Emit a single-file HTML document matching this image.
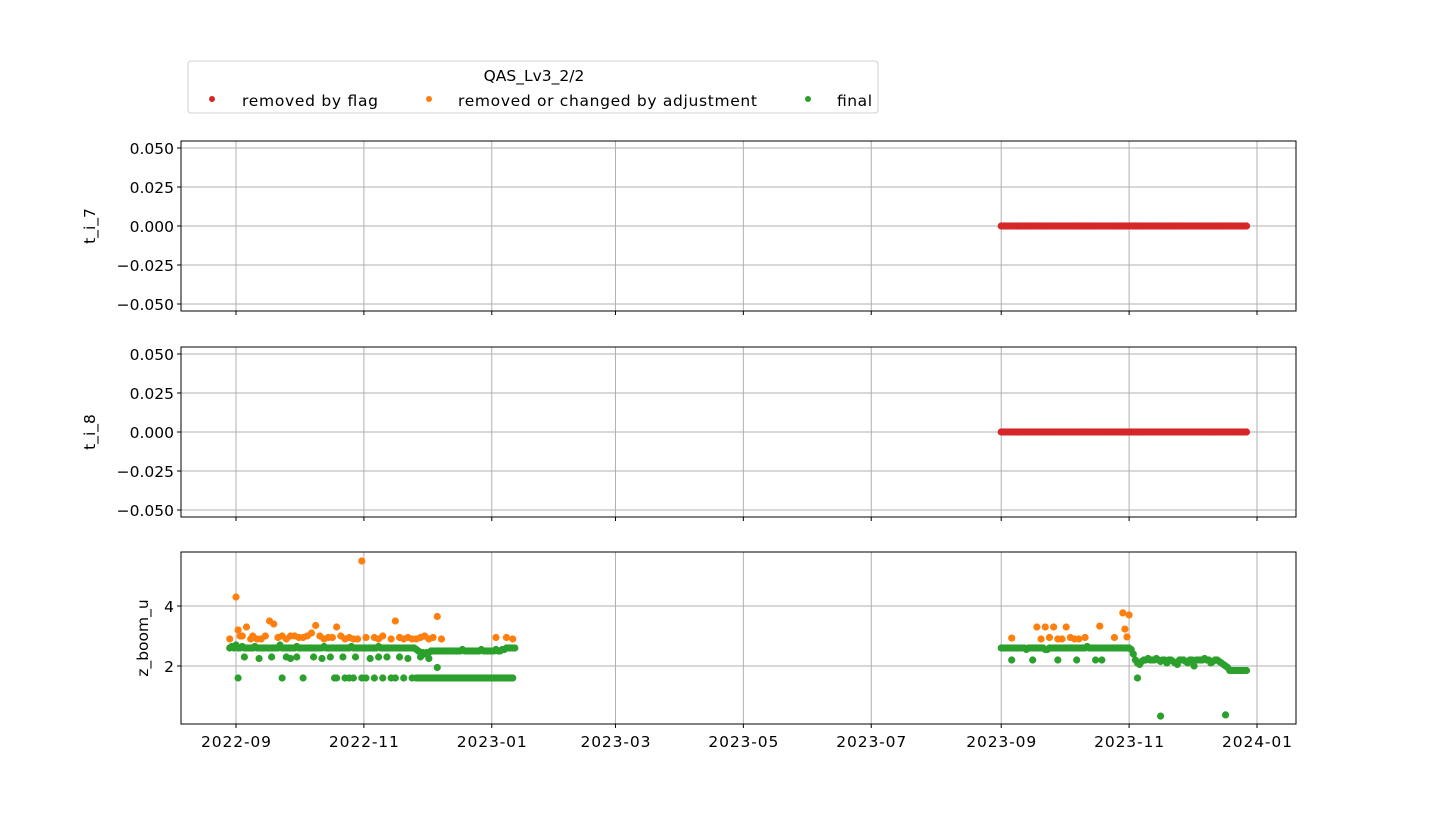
<!DOCTYPE html>
<html><head><meta charset="utf-8"><style>
body{margin:0;background:#fff;}
svg{display:block;font-family:"DejaVu Sans","Liberation Sans",sans-serif;}
</style></head><body>
<svg id="fig" width="1440" height="827" xmlns="http://www.w3.org/2000/svg">
<rect width="1440" height="827" fill="#fff"/>
<g id="legend">
<rect x="188" y="61" width="690" height="52" rx="3" fill="#fff" stroke="#d0d0d0"/>
<text x="534" y="81" font-size="15.5" text-anchor="middle">QAS_Lv3_2/2</text>
<circle cx="212" cy="99" r="3" fill="#d62728"/>
<text x="242" y="106" font-size="15.5" textLength="136">removed by flag</text>
<circle cx="429" cy="99" r="3" fill="#ff7f0e"/>
<text x="458" y="106" font-size="15.5" textLength="299">removed or changed by adjustment</text>
<circle cx="808" cy="99" r="3" fill="#2ca02c"/>
<text x="837" y="106" font-size="15.5" textLength="35">final</text>
</g>
</svg>
<script>
// x tick labels and their day offsets from 2022-09-01
const xTickLabels=["2022-09","2022-11","2023-01","2023-03","2023-05","2023-07","2023-09","2023-11","2024-01"];
const xTickDays=[0,61,122,181,242,303,365,426,487];
const topTicks=[0.05,0.025,0,-0.025,-0.05];
const topTickLabels=["0.050","0.025","0.000","\u22120.025","\u22120.050"];
const botTicks=[2,4];
const botTickLabels=["2","4"];
// top panels: flagged values, daily from day 365
const redStart=365;
const redVals=[0,0,0,0,0,0,0,0,0,0, 0,0,0,0,0,0,0,0,0,0, 0,0,0,0,0,0,0,0,0,0, 0,0,0,0,0,0,0,0,0,0,
0,0,0,0,0,0,0,0,0,0, 0,0,0,0,0,0,0,0,0,0, 0,0,0,0,0,0,0,0,0,0, 0,0,0,0,0,0,0,0,0,0,
0,0,0,0,0,0,0,0,0,0, 0,0,0,0,0,0,0,0,0,0, 0,0,0,0,0,0,0,0,0,0, 0,0,0,0,0,0,0,0];
// bottom panel: orange (removed/changed by adjustment)
const orangeDays=[-3,0,1,2,3,5,7,8,10,12,14,16,18,20,22,24,26,28,30,32,34,36,38,40,42,44,46,48,50,52,54,56,58,60,62,66,68,70,74,76,78,80,82,84,86,88,90,92,94,96,98,124,129,132,370,382,384,386,388,390,392,394,396,398,400,402,405,412,419,423,424,425,426];
const orangeVals=[2.9,4.3,3.2,3.0,3.0,3.3,2.9,3.0,2.9,2.9,3.0,3.5,3.4,2.95,3.0,2.9,3.0,3.0,2.95,2.95,3.0,3.1,3.35,3.0,2.9,2.95,2.95,3.3,3.0,2.9,2.95,2.9,2.9,5.5,2.95,2.95,2.9,3.0,2.9,3.5,2.95,2.9,2.95,2.9,2.9,2.95,3.0,2.9,2.95,3.65,2.9,2.95,2.95,2.9,2.93,3.3,2.9,3.3,2.95,3.3,2.9,2.9,3.3,2.95,2.9,2.9,2.95,3.33,2.95,3.77,3.23,2.97,3.7];
// bottom panel: green main series 2022, daily from day -3
const green22Start=-3;
const green22Vals=[2.6,2.65,2.6,2.7,2.6,2.6,2.65,2.6,2.6,2.6,
2.6,2.6,2.65,2.6,2.6,2.6,2.6,2.6,2.6,2.6,
2.6,2.6,2.6,2.6,2.7,2.6,2.6,2.6,2.6,2.6,
2.6,2.6,2.65,2.6,2.6,2.6,2.6,2.6,2.6,2.6,
2.6,2.6,2.6,2.6,2.6,2.65,2.6,2.6,2.6,2.6,
2.6,2.6,2.6,2.6,2.6,2.6,2.6,2.6,2.65,2.6,
2.6,2.6,2.6,2.6,2.6,2.6,2.6,2.6,2.6,2.6,
2.6,2.65,2.6,2.6,2.6,2.6,2.6,2.6,2.6,2.6,
2.6,2.6,2.6,2.6,2.6,2.6,2.6,2.6,2.6,
2.55,2.5,2.45,2.45,2.4,2.45,2.45,2.5,2.5,2.5,2.5,
2.5,2.5,2.5,2.5,2.5,2.5,2.5,2.5,2.5,2.5,
2.5,2.55,2.5,2.5,2.5,2.5,2.5,2.5,2.5,2.5,
2.55,2.5,2.5,2.5,2.5,2.5,2.5,2.55,2.5,2.5,
2.55,2.55,2.6,2.6,2.6,2.6,2.6];
// bottom panel: green main series 2023, daily from day 365
const green23Start=365;
const green23Vals=[2.6,2.6,2.6,2.6,2.6,2.6,2.6,2.6,2.6,2.6,
2.6,2.6,2.55,2.6,2.6,2.6,2.6,2.6,2.6,2.6,
2.6,2.55,2.55,2.6,2.6,2.6,2.6,2.6,2.6,2.6,
2.6,2.6,2.6,2.6,2.6,2.6,2.6,2.6,2.6,2.6,
2.6,2.65,2.6,2.6,2.6,2.6,2.6,2.6,2.6,2.6,
2.6,2.6,2.6,2.6,2.6,2.6,2.6,2.6,2.6,2.6,
2.6,2.6,2.55,
2.4,2.2,2.1,2.05,2.15,2.2,2.2,2.25,2.2,2.2,
2.2,2.25,2.2,2.15,2.2,2.2,2.1,2.2,2.2,2.15,
2.1,2.05,2.2,2.2,2.2,2.15,2.1,2.2,2.2,2.0,
2.2,2.2,2.2,2.2,2.25,2.2,2.2,2.1,2.15,2.2,
2.2,2.15,2.1,2.05,2.0,1.95,1.85,1.85,1.85,1.85,
1.85,1.85,1.85,1.85,1.85];
// bottom panel: green floor row at 1.6, daily from day 87
const floorStart=87;
const floorVals=[1.6,1.6,1.6,1.6,1.6,1.6,1.6,1.6,1.6,1.6, 1.6,1.6,1.6,1.6,1.6,1.6,1.6,1.6,1.6,1.6,
1.6,1.6,1.6,1.6,1.6,1.6,1.6,1.6,1.6,1.6, 1.6,1.6,1.6,1.6,1.6,1.6,1.6,1.6,1.6,1.6, 1.6,1.6,1.6,1.6,1.6,1.6];
// bottom panel: green scattered lower values
const greenLowDays=[1,4,11,17,22,24,26,29,32,37,41,45,48,51,54,57,60,64,68,72,76,78,82,86,88,92,96,47,52,56,62,66,70,74,80,84,
370,380,392,401,410,413,430,441,472];
const greenLowVals=[1.6,2.3,2.25,2.3,1.6,2.3,2.25,2.3,1.6,2.3,2.25,2.3,1.6,2.3,1.6,2.3,1.6,2.25,2.3,2.3,1.6,2.3,2.25,1.6,2.3,2.25,1.95,1.6,1.6,1.6,1.6,1.6,1.6,1.6,1.6,1.6,
2.2,2.2,2.2,2.2,2.2,2.2,1.6,0.33,0.37];

const NS="http://www.w3.org/2000/svg";
const svg=document.getElementById('fig');
const X0=181,X1=1296;
const xScale=d=>236+d*2.0965;
function mk(tag,attrs,parent){const e=document.createElementNS(NS,tag);for(const k in attrs)e.setAttribute(k,attrs[k]);(parent||svg).appendChild(e);return e;}
const panels=[
 {top:141,bot:311,y:v=>226-v*1560,ticks:topTicks,labels:topTickLabels,title:"t_i_7",tx:95,name:"t-i-7"},
 {top:347,bot:517,y:v=>432-v*1560,ticks:topTicks,labels:topTickLabels,title:"t_i_8",tx:95,name:"t-i-8"},
 {top:552,bot:724,y:v=>666-(v-2)*30,ticks:botTicks,labels:botTickLabels,title:"z_boom_u",tx:148,name:"z-boom-u"}
];
panels.forEach((p,pi)=>{
 const g=mk('g',{});
 
 
 xTickDays.forEach((d,i)=>{
  const x=xScale(d);
  const gl=mk('line',{x1:x,x2:x,y1:p.top,y2:p.bot,stroke:'#b0b0b0','stroke-width':1},g);
  
  
  mk('line',{x1:x,x2:x,y1:p.bot,y2:p.bot+4,stroke:'#000'},g);
  if(pi===2){const t=mk('text',{x:x,y:p.bot+23,'font-size':15.5,'text-anchor':'middle',textLength:70},g);t.textContent=xTickLabels[i];
   
   }
 });
 p.ticks.forEach((v,i)=>{
  const y=p.y(v);
  const gl=mk('line',{x1:X0,x2:X1,y1:y,y2:y,stroke:'#b0b0b0','stroke-width':1},g);
  
  
  mk('line',{x1:X0-4,x2:X0,y1:y,y2:y,stroke:'#000'},g);
  const t=mk('text',{x:X0-7,y:y+6,'font-size':15.5,'text-anchor':'end'},g);t.textContent=p.labels[i];
  
  
 });
 const cy=(p.top+p.bot)/2;
 const yt=mk('text',{x:p.tx,y:cy,'font-size':15.5,'text-anchor':'middle',transform:`rotate(-90 ${p.tx} ${cy})`},g);
 yt.textContent=p.title;
 
 
 const clip=mk('g',{},g);
 function dots(days,vals,color,name){
  days.forEach((d,i)=>{
   const c=mk('circle',{cx:xScale(d),cy:p.y(vals[i]),r:3.6,fill:color},clip);
   
   
  });
 }
 function seq(start,vals){return vals.map((_,i)=>start+i);}
 if(pi<2){dots(seq(redStart,redVals),redVals,'#d62728','flag-point');}
 else{
  dots(orangeDays,orangeVals,'#ff7f0e','adjustment-point');
  dots(seq(floorStart,floorVals),floorVals,'#2ca02c','final-point');
  dots(greenLowDays,greenLowVals,'#2ca02c','final-point');
  dots(seq(green22Start,green22Vals),green22Vals,'#2ca02c','final-point');
  dots(seq(green23Start,green23Vals),green23Vals,'#2ca02c','final-point');
 }
 const fr=mk('rect',{x:X0,y:p.top,width:X1-X0,height:p.bot-p.top,fill:'none',stroke:'#000','stroke-width':1},g);
 
 
});
</script>
</body></html>
